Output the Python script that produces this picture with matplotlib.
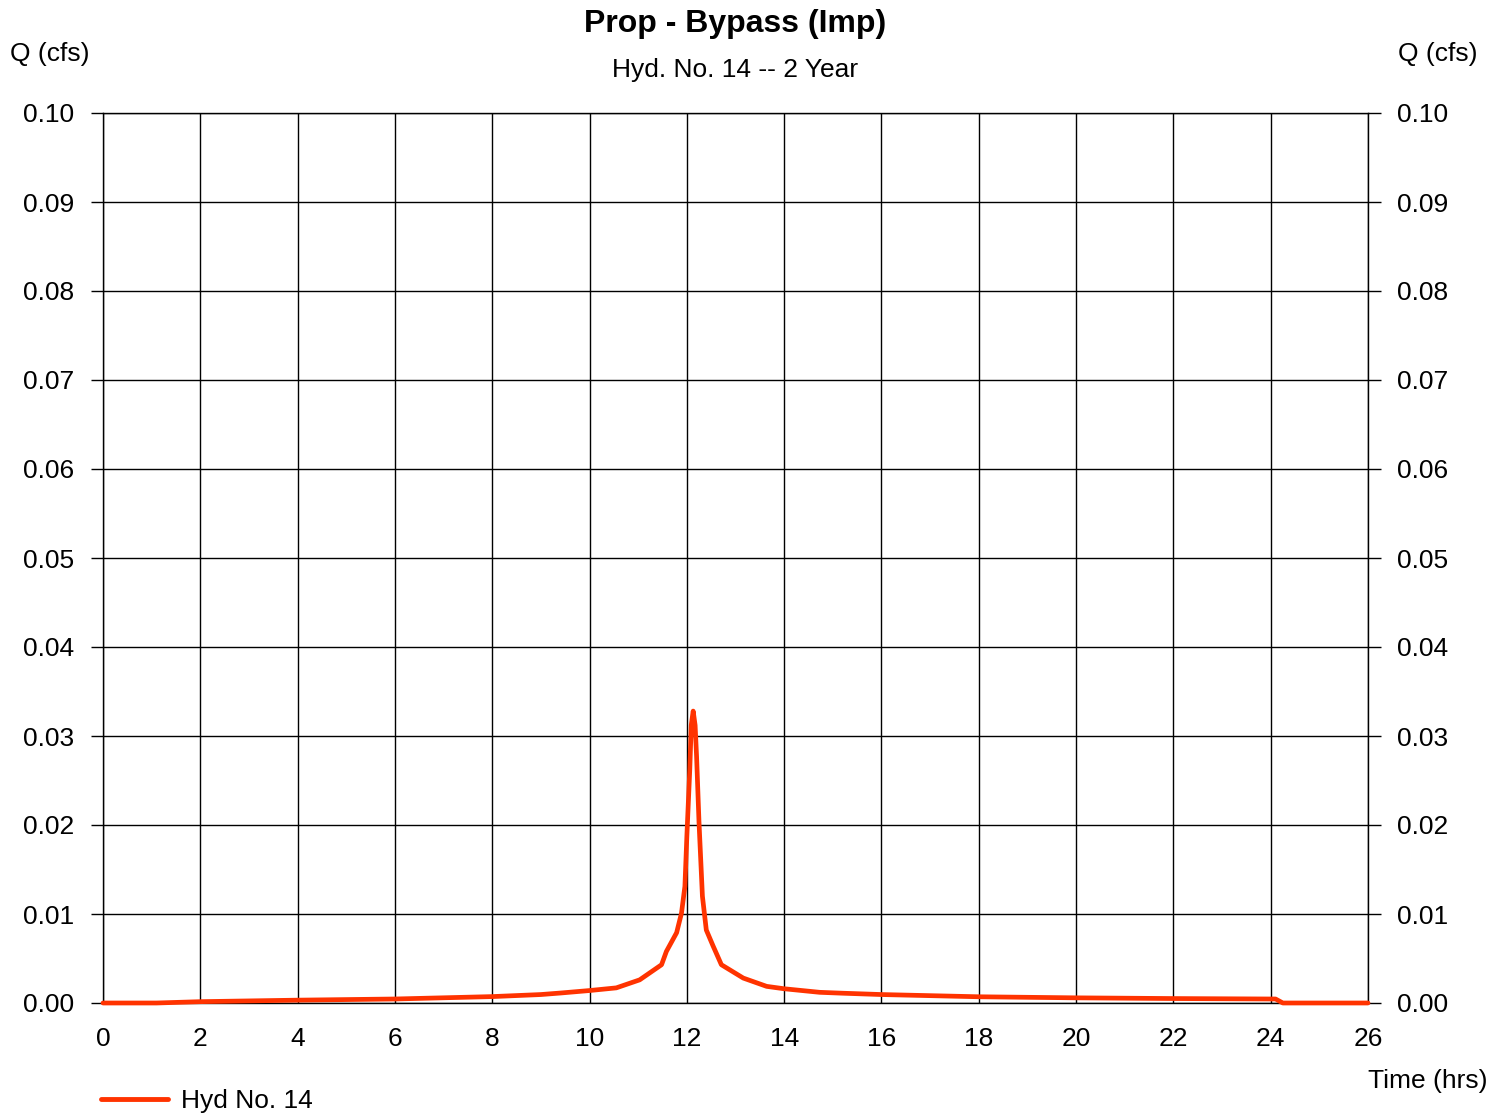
import matplotlib
matplotlib.use("Agg")
import matplotlib.pyplot as plt
from matplotlib.lines import Line2D

plt.rcParams['font.family'] = ['Liberation Sans', 'DejaVu Sans']

time_hrs = [0.0, 1.1, 2.0, 4.0, 6.0, 8.0, 9.0, 9.4, 10.0, 10.55, 11.03, 11.48,
            11.58, 11.79, 11.89, 11.96, 12.0, 12.06, 12.09, 12.13, 12.17, 12.2,
            12.25, 12.32, 12.4, 12.54, 12.71, 13.16, 13.64, 14.0, 14.73, 15.2,
            16.0, 18.0, 20.0, 22.0, 24.0, 24.1, 24.25, 26.0]
q_cfs = [0.0, 0.0, 0.00015, 0.00032, 0.00045, 0.00072, 0.00095, 0.00112, 0.0014,
         0.0017, 0.0026, 0.0043, 0.0058, 0.0079, 0.0101, 0.0131, 0.0187, 0.0262,
         0.0312, 0.0328, 0.0312, 0.0277, 0.0203, 0.0120, 0.0082, 0.0064, 0.0043,
         0.0028, 0.00187, 0.0016, 0.0012, 0.0011, 0.00095, 0.00070, 0.00058,
         0.00050, 0.00045, 0.00045, 0.0, 0.0]

x_ticks = list(range(0, 27, 2))
y_ticks = [0.00, 0.01, 0.02, 0.03, 0.04, 0.05, 0.06, 0.07, 0.08, 0.09, 0.10]
y_labels = ["%.2f" % v for v in y_ticks]

title = "Prop - Bypass (Imp)"
subtitle = "Hyd. No. 14 -- 2 Year"
series_name = "Hyd No. 14"
line_color = "#FF3300"

W, H = 1504, 1114
fs = 19
fig = plt.figure(figsize=(W / 100, H / 100), dpi=100)
ax = fig.add_axes([103 / W, (H - 1003) / H, (1368 - 103) / W, (1003 - 113) / H])

ax.plot(time_hrs, q_cfs, color=line_color, lw=3.4, solid_capstyle='round',
        solid_joinstyle='round', zorder=3, clip_on=False)

ax.set_xlim(0, 26)
ax.set_ylim(0, 0.10)
ax.set_xticks(x_ticks)
ax.set_xticklabels([str(t) for t in x_ticks])
ax.set_yticks(y_ticks)
ax.set_yticklabels(y_labels)
ax.grid(True, color='black', lw=1.0)
for s in ax.spines.values():
    s.set_color('black')
    s.set_linewidth(1.0)

ax.tick_params(axis='x', length=0, pad=17, labelsize=fs)
ax.tick_params(axis='y', length=9, width=1.0, pad=12, labelsize=fs,
               left=True, right=True, labelleft=True, labelright=True)

fig.text(735 / W, 1 - 24 / H, title, ha='center', va='center', fontsize=23, fontweight='bold')
fig.text(735 / W, 1 - 70 / H, subtitle, ha='center', va='center', fontsize=fs)
fig.text(10 / W, 1 - 54 / H, "Q (cfs)", ha='left', va='center', fontsize=fs)
fig.text(1478 / W, 1 - 54 / H, "Q (cfs)", ha='right', va='center', fontsize=fs)
fig.text(1488 / W, 1 - 1081 / H, "Time (hrs)", ha='right', va='center', fontsize=fs)

handle = Line2D([], [], color=line_color, lw=3.5, solid_capstyle='round')
fig.legend([handle], [series_name], loc='center left',
           bbox_to_anchor=(101 / W, 1 - 1101 / H), frameon=False, fontsize=fs,
           handlelength=2.55, handletextpad=0.5, borderaxespad=0, borderpad=0)

fig.savefig("out.png", dpi=100)
